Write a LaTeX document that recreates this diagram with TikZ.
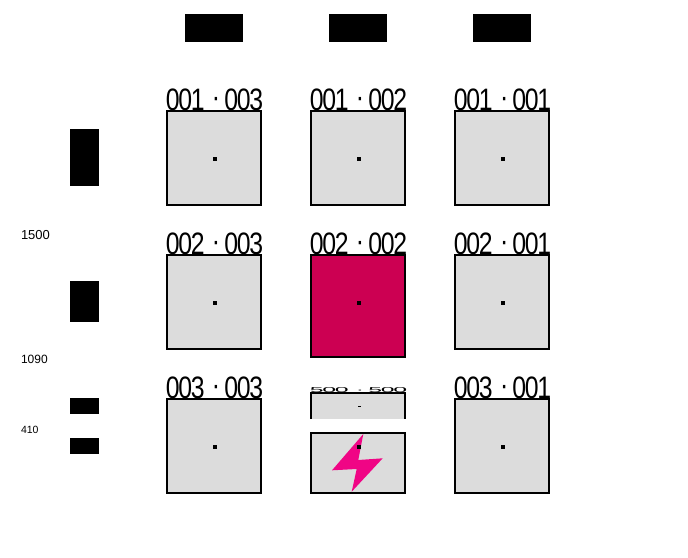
\documentclass[tikz,border=0pt]{standalone}
\usepackage{fontspec}
\usepackage{graphicx}
\setmainfont{Liberation Sans}
\newfontfamily\capfont[LetterSpace=-5]{Liberation Sans}
\definecolor{cellgray}{HTML}{DCDCDC}
\definecolor{cellred}{HTML}{CC0052}
\definecolor{boltpink}{HTML}{F00585}
\tikzset{
  cellbox/.style={draw=black,line width=1.8pt,fill=cellgray,minimum width=94pt,minimum height=94pt,inner sep=0pt,outer sep=0pt},
  blackbox/.style={fill=black,draw=none,inner sep=0pt,outer sep=0pt},
  cdot/.style={fill=black,inner sep=0pt,minimum width=3.2pt,minimum height=3.2pt},
  cellcap/.style={inner sep=0pt,outer sep=0pt,anchor=south,font=\capfont\fontsize{31}{31}\selectfont},
  sidelabel/.style={inner sep=0pt,outer sep=0pt,anchor=west}
}
\newcommand{\caplabel}[2]{\scalebox{0.8}[1]{#1 \hspace{2pt}\raisebox{3pt}{·}\hspace{5pt}#2}}
\begin{document}
\begin{tikzpicture}[x=1pt,y=-1pt]
\useasboundingbox (0,0) rectangle (688,557);
% top black boxes
\node[blackbox,minimum width=58pt,minimum height=28pt] (t1) at (214,28) {};
\node[blackbox,minimum width=58pt,minimum height=28pt] (t2) at (358,28) {};
\node[blackbox,minimum width=58pt,minimum height=28pt] (t3) at (502,28) {};
% left black boxes
\node[blackbox,minimum width=29pt,minimum height=57pt] (l1) at (84.5,157.5) {};
\node[blackbox,minimum width=29pt,minimum height=41pt] (l2) at (84.5,301.5) {};
\node[blackbox,minimum width=29pt,minimum height=16pt] (l3) at (84.5,406) {};
\node[blackbox,minimum width=29pt,minimum height=16pt] (l4) at (84.5,446) {};
% side labels
\node[sidelabel,font=\fontsize{13}{13}\selectfont] (s1) at (21,235) {1500};
\node[sidelabel,font=\fontsize{12}{12}\selectfont] (s2) at (21,359) {1090};
\node[sidelabel,font=\fontsize{10.5}{11}\selectfont] (s3) at (21,430) {410};
% row 1
\node[cellbox] (c11) at (214,158) {};
\node[cellbox] (c12) at (358,158) {};
\node[cellbox] (c13) at (502,158) {};
% row 2
\node[cellbox] (c21) at (214,302) {};
\node[cellbox,fill=cellred,minimum height=102pt] (c22) at (358,306) {};
\node[cellbox] (c23) at (502,302) {};
% row 3
\node[cellbox] (c31) at (214,446) {};
\node[cellbox] (c33) at (502,446) {};
% split cell
\fill[cellgray] (311,393) rectangle (405,419);
\draw[line width=1.8pt] (311,419) -- (311,393) -- (405,393) -- (405,419);
\node[cellbox,minimum height=60pt] (c32) at (358,463) {};
\fill[boltpink] (363.3,434) -- (332,470.3) -- (356.7,469) -- (351.7,491.7) -- (382.7,458.3) -- (358.3,460) -- cycle;
% centre dots
\foreach \n/\x/\y in {d11/214/159,d12/358/159,d13/502/159,d21/214/303,d22/358/303,d23/502/303,d31/214/447,d32/358/447,d33/502/447}
  \node[cdot] (\n) at (\x+1,\y) {};
\node[fill=black,inner sep=0pt,minimum width=3pt,minimum height=1pt] (d32a) at (359,406) {};
% captions
\node[cellcap] (k11) at (214.5,110.5) {\caplabel{001}{003}};
\node[cellcap] (k12) at (358.5,110.5) {\caplabel{001}{002}};
\node[cellcap] (k13) at (502.5,110.5) {\caplabel{001}{001}};
\node[cellcap] (k21) at (214.5,254.5) {\caplabel{002}{003}};
\node[cellcap] (k22) at (358.5,254.5) {\caplabel{002}{002}};
\node[cellcap] (k23) at (502.5,254.5) {\caplabel{002}{001}};
\node[cellcap] (k31) at (214.5,398.5) {\caplabel{003}{003}};
\node[cellcap] (k33) at (502.5,398.5) {\caplabel{003}{001}};
\node[cellcap] (k32) at (358.5,393) {\scalebox{1}[0.23]{\caplabel{500}{500}}};
\end{tikzpicture}
\end{document}
